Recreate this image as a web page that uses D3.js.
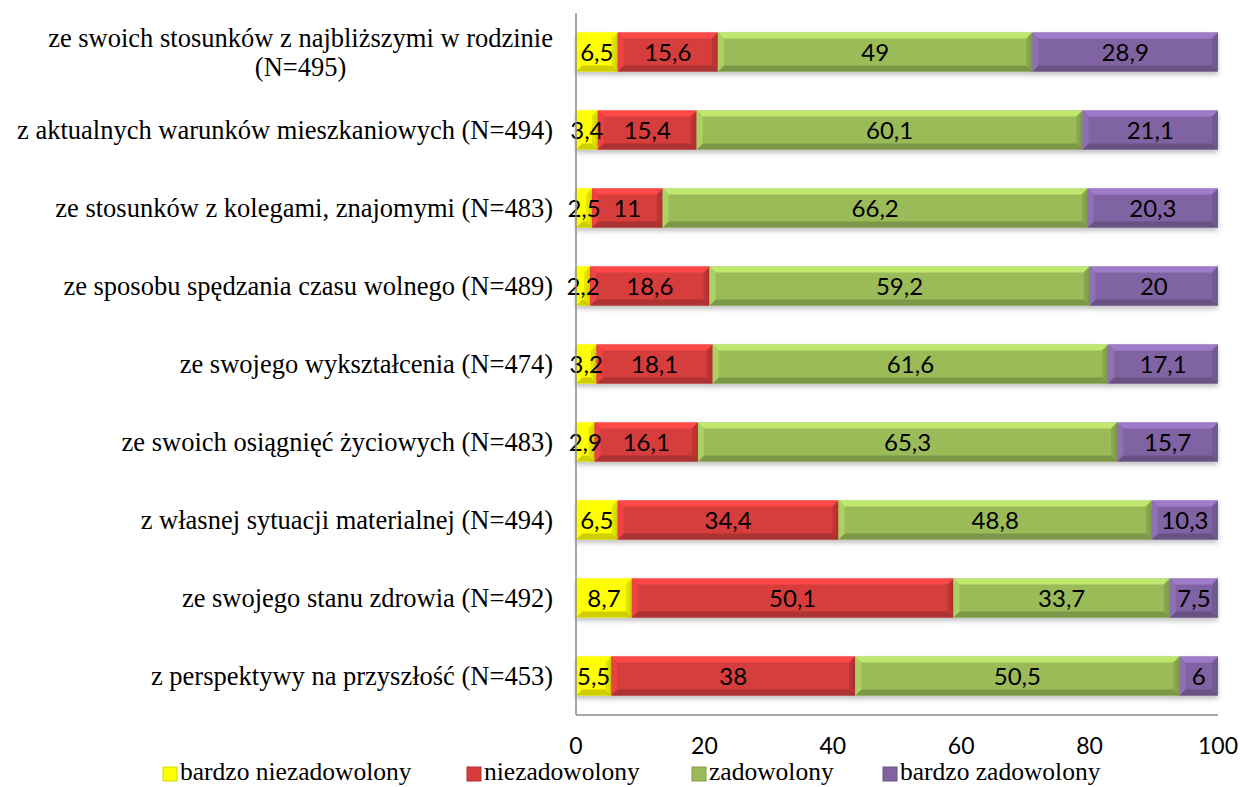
<!DOCTYPE html>
<html>
<head>
<meta charset="utf-8">
<script src="https://cdn.jsdelivr.net/npm/d3@7"></script>
<style>
  body { margin: 0; background: #fff; }
  svg { display: block; }
</style>
</head>
<body>
<svg id="chart" width="1240" height="787"></svg>
<script>
// categories, top to bottom
var categories = [
  "ze swoich stosunków z najbliższymi w rodzinie (N=495)",
  "z aktualnych warunków mieszkaniowych (N=494)",
  "ze stosunków z kolegami, znajomymi (N=483)",
  "ze sposobu spędzania czasu wolnego (N=489)",
  "ze swojego wykształcenia (N=474)",
  "ze swoich osiągnięć życiowych (N=483)",
  "z własnej sytuacji materialnej (N=494)",
  "ze swojego stanu zdrowia (N=492)",
  "z perspektywy na przyszłość (N=453)"
];
var seriesNames = ["bardzo niezadowolony", "niezadowolony", "zadowolony", "bardzo zadowolony"];
var bardzoNiezadowolony = [6.5, 3.4, 2.5, 2.2, 3.2, 2.9, 6.5, 8.7, 5.5];
var niezadowolony = [15.6, 15.4, 11, 18.6, 18.1, 16.1, 34.4, 50.1, 38];
var zadowolony = [49, 60.1, 66.2, 59.2, 61.6, 65.3, 48.8, 33.7, 50.5];
var bardzoZadowolony = [28.9, 21.1, 20.3, 20, 17.1, 15.7, 10.3, 7.5, 6];
var xTicks = [0, 20, 40, 60, 80, 100];

var colors = ["#ffff00", "#d63c3c", "#9bbb59", "#8064a2"];

var rows = categories.map(function(c, i) {
  return {
    cat: c,
    "bardzo niezadowolony": bardzoNiezadowolony[i],
    "niezadowolony": niezadowolony[i],
    "zadowolony": zadowolony[i],
    "bardzo zadowolony": bardzoZadowolony[i]
  };
});

var svg = d3.select("svg#chart");
var margin = {top: 13, left: 576, right: 22, bottom: 72};
var width = 1240, height = 787;

var x = d3.scaleLinear().domain([0, 100]).range([margin.left, width - margin.right]);
var y = d3.scaleBand().domain(categories).range([margin.top, height - margin.bottom])
  .paddingInner(0.5).paddingOuter(0.25);
var color = d3.scaleOrdinal().domain(seriesNames).range(colors);

var stacked = d3.stack().keys(seriesNames)(rows);

// soft shadow under bars
var defs = svg.append("defs");
var f = defs.append("filter").attr("id", "shadow").attr("x", "-5%").attr("y", "-30%").attr("width", "110%").attr("height", "180%");
f.append("feDropShadow").attr("dx", 0).attr("dy", 3).attr("stdDeviation", 2.5).attr("flood-color", "#000").attr("flood-opacity", 0.25);

var layers = svg.selectAll("g.layer")
  .data(stacked)
  .enter().append("g")
  .attr("class", "layer")
  .attr("filter", "url(#shadow)");

var bev = 6;
layers.each(function(layer) {
  var g = d3.select(this);
  var base = d3.color(color(layer.key));
  layer.forEach(function(d) {
    var x0 = x(d[0]), x1 = x(d[1]), y0 = y(d.data.cat), h = y.bandwidth();
    var b = Math.min(bev, (x1 - x0) / 2);
    var seg = g.append("g");
    seg.append("rect").attr("x", x0).attr("y", y0).attr("width", x1 - x0).attr("height", h).attr("fill", base);
    // bevel: top light, bottom dark, left light, right dark
    seg.append("polygon")
      .attr("points", [[x0, y0], [x1, y0], [x1 - b, y0 + bev], [x0 + b, y0 + bev]].join(" "))
      .attr("fill", base.brighter(0.6));
    seg.append("polygon")
      .attr("points", [[x0, y0 + h], [x1, y0 + h], [x1 - b, y0 + h - bev], [x0 + b, y0 + h - bev]].join(" "))
      .attr("fill", base.darker(0.6));
    seg.append("polygon")
      .attr("points", [[x0, y0], [x0 + b, y0 + bev], [x0 + b, y0 + h - bev], [x0, y0 + h]].join(" "))
      .attr("fill", base.brighter(0.3));
    seg.append("polygon")
      .attr("points", [[x1, y0], [x1 - b, y0 + bev], [x1 - b, y0 + h - bev], [x1, y0 + h]].join(" "))
      .attr("fill", base.darker(0.3));
  });
});

// value labels
stacked.forEach(function(layer) {
  svg.append("g").selectAll("text")
    .data(layer)
    .enter().append("text")
    .attr("x", d => (x(d[0]) + x(d[1])) / 2)
    .attr("y", d => y(d.data.cat) + y.bandwidth() / 2)
    .attr("dy", "0.36em")
    .attr("text-anchor", "middle")
    .style("font-family", "Lato, 'Open Sans', sans-serif")
    .style("font-size", "24px")
    .attr("fill", "#000")
    .text(d => String(+(d[1] - d[0]).toFixed(1)).replace(".", ","));
});

// axes lines
svg.append("line")
  .attr("x1", x(0)).attr("x2", x(0))
  .attr("y1", margin.top).attr("y2", height - margin.bottom)
  .attr("stroke", "#888").attr("stroke-width", 1.5);
svg.append("line")
  .attr("x1", x(0)).attr("x2", x(100))
  .attr("y1", height - margin.bottom).attr("y2", height - margin.bottom)
  .attr("stroke", "#888").attr("stroke-width", 1.5);

// x tick labels
svg.append("g").selectAll("text")
  .data(xTicks)
  .enter().append("text")
  .attr("x", d => x(d))
  .attr("y", 754)
  .attr("text-anchor", "middle")
  .style("font-family", "Lato, 'Open Sans', sans-serif")
  .style("font-size", "23px")
  .text(d => d);

// category labels
var labelRight = 553;
var catG = svg.append("g")
  .style("font-family", "'Liberation Serif', 'Times New Roman', serif")
  .style("font-size", "26.5px");
categories.forEach(function(c, i) {
  var cy = y(c) + y.bandwidth() / 2;
  if (i === 0) {
    var parts = ["ze swoich stosunków z najbliższymi w rodzinie", "(N=495)"];
    var t1 = catG.append("text").attr("x", labelRight).attr("y", cy - 14.5).attr("dy", "0.35em")
      .attr("text-anchor", "end").text(parts[0]);
    var w = t1.node().getComputedTextLength();
    catG.append("text").attr("x", labelRight - w / 2).attr("y", cy + 14.5).attr("dy", "0.35em")
      .attr("text-anchor", "middle").text(parts[1]);
  } else {
    catG.append("text").attr("x", labelRight).attr("y", cy).attr("dy", "0.35em")
      .attr("text-anchor", "end").text(c);
  }
});

// legend
var legendX = [163, 467, 692, 883];
var legend = svg.append("g")
  .style("font-family", "'Liberation Serif', 'Times New Roman', serif")
  .style("font-size", "25.5px");
seriesNames.forEach(function(s, i) {
  var base = d3.color(color(s));
  legend.append("rect").attr("x", legendX[i]).attr("y", 767).attr("width", 14).attr("height", 14)
    .attr("fill", base).attr("stroke", base.darker(0.5)).attr("stroke-width", 1);
  legend.append("text").attr("x", legendX[i] + 17).attr("y", 780).text(s);
});
</script>
</body>
</html>
